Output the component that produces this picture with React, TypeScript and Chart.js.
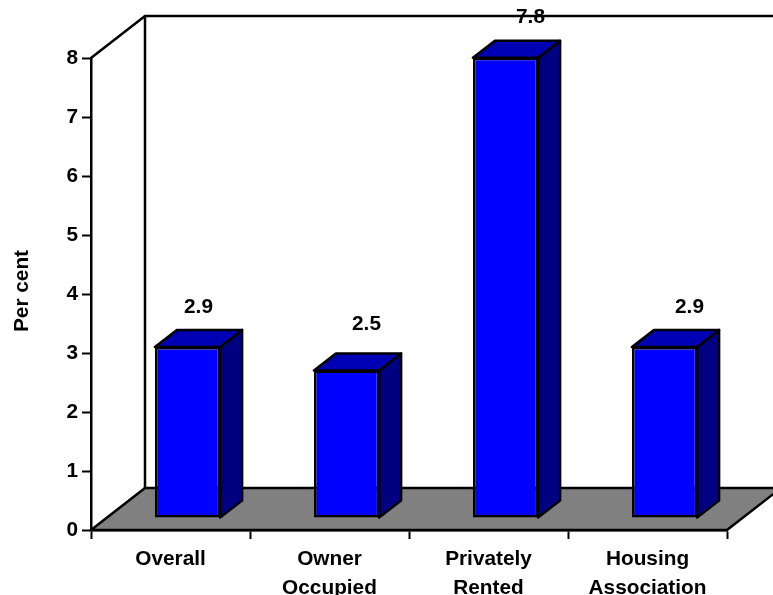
import React, { useEffect, useRef } from "react";
import { Chart, registerables } from "chart.js";

Chart.register(...registerables);

const categories = [["Overall"], ["Owner", "Occupied"], ["Privately", "Rented"], ["Housing", "Association"]];
const perCent = [2.9, 2.5, 7.8, 2.9];
const axisMin = 0;
const axisMax = 8;
const axisTitle = "Per cent";

const FONT = "'Liberation Sans', Arial, sans-serif";
const FONT_SIZE = 20.8;
const LINE = 2.5;

// Isometric offsets of the box that holds the chart.
const WALL_DX = 54;
const WALL_DY = 42;
// Where a bar's front face stands on the floor, and how deep the bar is.
const BAR_SHIFT_X = 17;
const BAR_LIFT_Y = 12;
const BAR_DX = 22;
const BAR_DY = 17;
// Hand placement of the value labels relative to the top of each box.
const LABEL_NUDGE_X = [0, 9, 14, 14];
const LABEL_RISE_Y = [23, 29, 24, 23];
// Centre of the rotated axis title.
const TITLE_X = 22;
const TITLE_Y = 291;

const INK = "#000000";
const FLOOR = "#808080";
const FRONT = "#0000ff";
const TOP = "#0000b4";
const SIDE = "#000080";

function polygon(ctx: CanvasRenderingContext2D, pts: number[][], fill: string | null) {
  ctx.beginPath();
  pts.forEach(([x, y], i) => (i ? ctx.lineTo(x, y) : ctx.moveTo(x, y)));
  if (fill) {
    ctx.closePath();
    ctx.fillStyle = fill;
    ctx.fill();
  }
  ctx.stroke();
}

// Back walls, floor and axis title, painted underneath the axes.
const wallsPlugin = {
  id: "walls",
  beforeDraw(chart: any) {
    const { ctx, chartArea: a } = chart;
    ctx.save();
    ctx.strokeStyle = INK;
    ctx.lineWidth = LINE;
    ctx.lineJoin = "round";
    polygon(
      ctx,
      [
        [a.left, a.bottom],
        [a.right, a.bottom],
        [a.right + WALL_DX, a.bottom - WALL_DY],
        [a.left + WALL_DX, a.bottom - WALL_DY],
      ],
      FLOOR
    );
    polygon(ctx, [
      [a.left, a.top],
      [a.left + WALL_DX, a.top - WALL_DY],
      [a.left + WALL_DX, a.bottom - WALL_DY],
    ], null);
    polygon(ctx, [
      [a.left + WALL_DX, a.top - WALL_DY],
      [a.right + WALL_DX + 60, a.top - WALL_DY],
    ], null);
    ctx.translate(TITLE_X, TITLE_Y);
    ctx.rotate(-Math.PI / 2);
    ctx.fillStyle = INK;
    ctx.font = `bold ${FONT_SIZE}px ${FONT}`;
    ctx.textAlign = "center";
    ctx.textBaseline = "middle";
    ctx.fillText(axisTitle, 0, 0);
    ctx.restore();
  },
};

// Gives each bar its top and side faces and moves the whole box onto the floor.
const boxPlugin = {
  id: "boxes",
  beforeDatasetDraw(chart: any, args: any) {
    const { ctx } = chart;
    const bars = chart.getDatasetMeta(args.index).data;
    ctx.save();
    ctx.translate(BAR_SHIFT_X, -BAR_LIFT_Y);
    ctx.strokeStyle = INK;
    ctx.lineWidth = LINE;
    ctx.lineJoin = "round";
    bars.forEach((bar: any) => {
      const l = bar.x - bar.width / 2;
      const r = bar.x + bar.width / 2;
      polygon(
        ctx,
        [
          [l, bar.y],
          [l + BAR_DX, bar.y - BAR_DY],
          [r + BAR_DX, bar.y - BAR_DY],
          [r, bar.y],
        ],
        TOP
      );
      polygon(
        ctx,
        [
          [r, bar.y],
          [r + BAR_DX, bar.y - BAR_DY],
          [r + BAR_DX, bar.base - BAR_DY],
          [r, bar.base],
        ],
        SIDE
      );
    });
  },
  afterDatasetDraw(chart: any, args: any) {
    const { ctx } = chart;
    const bars = chart.getDatasetMeta(args.index).data;
    ctx.restore();
    ctx.save();
    ctx.fillStyle = INK;
    ctx.font = `bold ${FONT_SIZE}px ${FONT}`;
    ctx.textAlign = "center";
    ctx.textBaseline = "middle";
    bars.forEach((bar: any, i: number) => {
      const x = bar.x + BAR_SHIFT_X + BAR_DX / 2 + LABEL_NUDGE_X[i];
      const y = bar.y - BAR_LIFT_Y - BAR_DY - LABEL_RISE_Y[i];
      ctx.fillText(perCent[i].toFixed(1), x, y);
    });
    ctx.restore();
  },
};

export default function App() {
  const ref = useRef<HTMLCanvasElement | null>(null);

  useEffect(() => {
    const chart = new Chart(ref.current as HTMLCanvasElement, {
      type: "bar",
      data: {
        labels: categories as any,
        datasets: [
          {
            data: perCent,
            backgroundColor: FRONT,
            borderColor: INK,
            borderWidth: LINE,
            borderSkipped: false,
            barPercentage: 0.41,
            categoryPercentage: 1,
            clip: false as any,
          },
        ],
      },
      plugins: [wallsPlugin, boxPlugin],
      options: {
        responsive: false,
        animation: false,
        layout: { padding: { top: 58, right: 46, bottom: 0, left: 0 } },
        plugins: { legend: { display: false }, tooltip: { enabled: false } },
        scales: {
          x: {
            grid: {
              drawOnChartArea: false,
              drawTicks: true,
              tickLength: 9,
              tickWidth: 2,
              tickColor: INK,
            },
            border: { color: INK, width: LINE },
            ticks: {
              color: INK,
              font: { family: FONT, size: FONT_SIZE, weight: "bold", lineHeight: 1.4 },
              padding: 6,
              maxRotation: 0,
              autoSkip: false,
            },
            afterFit(scale: any) {
              scale.height = 65;
            },
          },
          y: {
            min: axisMin,
            max: axisMax,
            grid: { drawOnChartArea: false, tickLength: 9, tickWidth: 2, tickColor: INK },
            border: { color: INK, width: LINE },
            ticks: {
              stepSize: 1,
              color: INK,
              font: { family: FONT, size: FONT_SIZE, weight: "bold" },
              padding: 4,
            },
            afterFit(scale: any) {
              scale.width = 91;
            },
          },
        },
      },
    } as any);
    return () => chart.destroy();
  }, []);

  return (
    <div style={{ position: "absolute", left: 0, top: 0, width: 773, height: 595 }}>
      <canvas ref={ref} width={773} height={595} style={{ display: "block" }} />
    </div>
  );
}
